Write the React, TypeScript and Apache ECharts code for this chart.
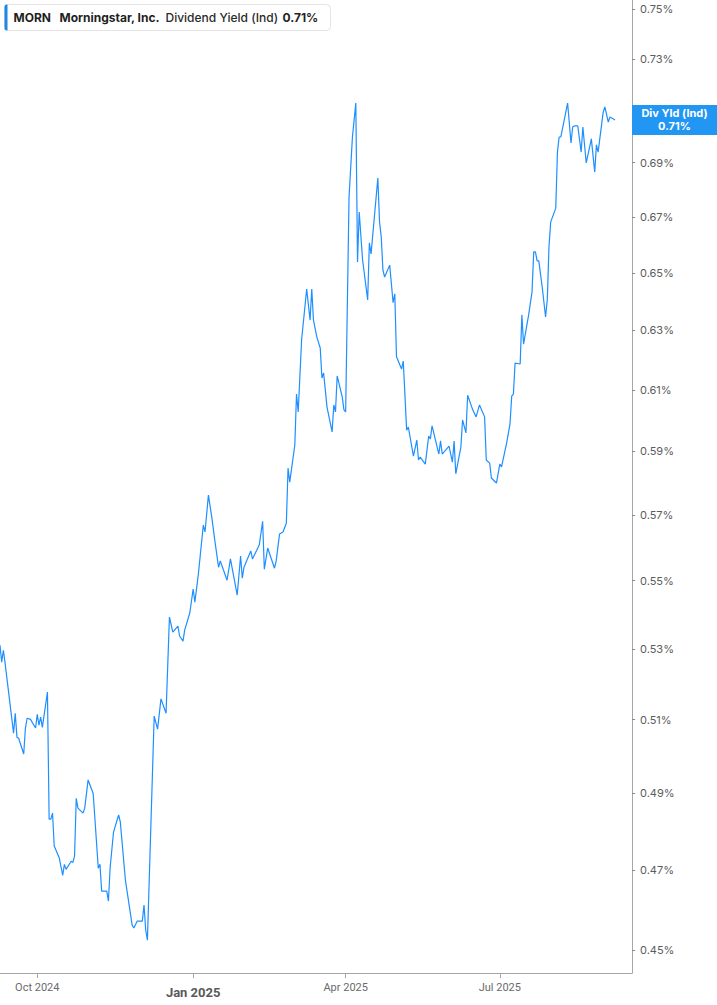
import React, { useEffect, useRef } from 'react';
import * as echarts from 'echarts';

// MORN dividend yield (%), daily readings
const dates = [
  '2024-09-09', '2024-09-10', '2024-09-11', '2024-09-12', '2024-09-17', '2024-09-18', '2024-09-19', '2024-09-20',
  '2024-09-23', '2024-09-24', '2024-09-25', '2024-09-27', '2024-09-30', '2024-10-01', '2024-10-02', '2024-10-03',
  '2024-10-04', '2024-10-07', '2024-10-08', '2024-10-09', '2024-10-10', '2024-10-11', '2024-10-14', '2024-10-16',
  '2024-10-17', '2024-10-18', '2024-10-21', '2024-10-22', '2024-10-23', '2024-10-24', '2024-10-25', '2024-10-28',
  '2024-10-29', '2024-10-31', '2024-11-03', '2024-11-06', '2024-11-07', '2024-11-08', '2024-11-11', '2024-11-12',
  '2024-11-13', '2024-11-15', '2024-11-18', '2024-11-19', '2024-11-22', '2024-11-26', '2024-11-27', '2024-11-29',
  '2024-12-02', '2024-12-03', '2024-12-04', '2024-12-05', '2024-12-09', '2024-12-11', '2024-12-13', '2024-12-16',
  '2024-12-18', '2024-12-20', '2024-12-23', '2024-12-24', '2024-12-26', '2024-12-27', '2024-12-30', '2025-01-01',
  '2025-01-02', '2025-01-04', '2025-01-07', '2025-01-08', '2025-01-10', '2025-01-12', '2025-01-14', '2025-01-16',
  '2025-01-17', '2025-01-21', '2025-01-23', '2025-01-27', '2025-01-29', '2025-01-30', '2025-01-31', '2025-02-04',
  '2025-02-05', '2025-02-09', '2025-02-11', '2025-02-12', '2025-02-14', '2025-02-18', '2025-02-19', '2025-02-21',
  '2025-02-23', '2025-02-25', '2025-02-26', '2025-02-27', '2025-03-02', '2025-03-03', '2025-03-04', '2025-03-06',
  '2025-03-09', '2025-03-11', '2025-03-12', '2025-03-13', '2025-03-15', '2025-03-17', '2025-03-18', '2025-03-19',
  '2025-03-21', '2025-03-24', '2025-03-25', '2025-03-26', '2025-03-27', '2025-03-30', '2025-03-31', '2025-04-01',
  '2025-04-03', '2025-04-05', '2025-04-07', '2025-04-08', '2025-04-09', '2025-04-11', '2025-04-14', '2025-04-15',
  '2025-04-16', '2025-04-20', '2025-04-21', '2025-04-22', '2025-04-23', '2025-04-24', '2025-04-27', '2025-04-29',
  '2025-04-30', '2025-05-01', '2025-05-04', '2025-05-05', '2025-05-07', '2025-05-08', '2025-05-11', '2025-05-13',
  '2025-05-14', '2025-05-15', '2025-05-18', '2025-05-20', '2025-05-21', '2025-05-22', '2025-05-26', '2025-05-27',
  '2025-05-28', '2025-06-01', '2025-06-03', '2025-06-04', '2025-06-05', '2025-06-08', '2025-06-09', '2025-06-11',
  '2025-06-12', '2025-06-15', '2025-06-17', '2025-06-19', '2025-06-22', '2025-06-23', '2025-06-25', '2025-06-26',
  '2025-06-29', '2025-07-01', '2025-07-02', '2025-07-05', '2025-07-07', '2025-07-08', '2025-07-09', '2025-07-10',
  '2025-07-13', '2025-07-14', '2025-07-15', '2025-07-18', '2025-07-20', '2025-07-21', '2025-07-22', '2025-07-23',
  '2025-07-24', '2025-07-26', '2025-07-28', '2025-07-29', '2025-07-30', '2025-07-31', '2025-08-03', '2025-08-04',
  '2025-08-05', '2025-08-06', '2025-08-10', '2025-08-12', '2025-08-13', '2025-08-14', '2025-08-16', '2025-08-18',
  '2025-08-19', '2025-08-21', '2025-08-24', '2025-08-26', '2025-08-27', '2025-08-28', '2025-08-31', '2025-09-01',
  '2025-09-03', '2025-09-04', '2025-09-07',
];

const yields = [
  0.5310, 0.5262, 0.5296, 0.5259, 0.5063, 0.5118, 0.5052, 0.5049,
  0.5006, 0.5077, 0.5104, 0.5101, 0.5077, 0.5115, 0.5085, 0.5107,
  0.5079, 0.5177, 0.4832, 0.4832, 0.4848, 0.4762, 0.4731, 0.4687,
  0.4715, 0.4702, 0.4723, 0.4720, 0.4736, 0.4887, 0.4861, 0.4848,
  0.4861, 0.4936, 0.4900, 0.4705, 0.4715, 0.4647, 0.4647, 0.4622,
  0.4707, 0.4798, 0.4843, 0.4825, 0.4675, 0.4562, 0.4555, 0.4572,
  0.4572, 0.4612, 0.4550, 0.4525, 0.5110, 0.5074, 0.5158, 0.5118,
  0.5392, 0.5348, 0.5366, 0.5337, 0.5322, 0.5354, 0.5404, 0.5475,
  0.5436, 0.5516, 0.5668, 0.5647, 0.5761, 0.5692, 0.5613, 0.5540,
  0.5559, 0.5501, 0.5565, 0.5457, 0.5574, 0.5507, 0.5540, 0.5589,
  0.5565, 0.5607, 0.5680, 0.5534, 0.5598, 0.5537, 0.5559, 0.5641,
  0.5647, 0.5674, 0.5846, 0.5802, 0.5920, 0.6086, 0.6027, 0.6267,
  0.6443, 0.6335, 0.6443, 0.6335, 0.6277, 0.6240, 0.6139, 0.6156,
  0.6043, 0.5962, 0.6050, 0.6027, 0.6146, 0.6076, 0.6034, 0.6027,
  0.6773, 0.6997, 0.7127, 0.6538, 0.6718, 0.6545, 0.6405, 0.6606,
  0.6567, 0.6843, 0.6681, 0.6628, 0.6509, 0.6485, 0.6527, 0.6395,
  0.6426, 0.6210, 0.6169, 0.6196, 0.5968, 0.5978, 0.5884, 0.5936,
  0.5872, 0.5881, 0.5859, 0.5949, 0.5939, 0.5982, 0.5891, 0.5933,
  0.5891, 0.5916, 0.5865, 0.5933, 0.5828, 0.5913, 0.6001, 0.5959,
  0.6082, 0.6034, 0.6011, 0.6050, 0.6011, 0.5872, 0.5862, 0.5815,
  0.5799, 0.5859, 0.5850, 0.5926, 0.5988, 0.6079, 0.6086, 0.6189,
  0.6186, 0.6353, 0.6253, 0.6353, 0.6433, 0.6574, 0.6574, 0.6542,
  0.6542, 0.6450, 0.6346, 0.6405, 0.6592, 0.6681, 0.6732, 0.6940,
  0.6997, 0.6997, 0.7127, 0.6974, 0.7035, 0.7039, 0.7039, 0.6940,
  0.7035, 0.6899, 0.6990, 0.6865, 0.6967, 0.6940, 0.7092, 0.7112,
  0.7054, 0.7073, 0.7062,
];

const yTicks = [0.45, 0.47, 0.49, 0.51, 0.53, 0.55, 0.57, 0.59, 0.61, 0.63, 0.65, 0.67, 0.69, 0.71, 0.73, 0.75];
const xTicks = ['2024-10-01', '2025-01-01', '2025-04-01', '2025-07-01'];
const monthNames = ['Jan', 'Feb', 'Mar', 'Apr', 'May', 'Jun', 'Jul', 'Aug', 'Sep', 'Oct', 'Nov', 'Dec'];

const ticker = 'MORN';
const company = 'Morningstar, Inc.';
const metric = 'Dividend Yield (Ind)';
const shortMetric = 'Div Yld (Ind)';

const BLUE = '#1e8fff';
const toTs = (s: string) => new Date(s + 'T00:00:00').getTime();

const App: React.FC = () => {
  const chartRef = useRef<HTMLDivElement>(null);

  useEffect(() => {
    if (!chartRef.current) return;
    const chart = echarts.init(chartRef.current, null, { renderer: 'svg' });

    const last = yields[yields.length - 1];
    const lastText = last.toFixed(2) + '%';

    const option = {
      animation: false,
      grid: { left: 0, right: 85, top: 0, bottom: 32 },
      // timestamps on a plain value axis so the quarter ticks can be placed exactly
      xAxis: {
        type: 'value',
        min: toTs('2024-09-09'),
        max: toTs('2025-09-17'),
        splitLine: { show: false },
        axisLine: { show: true, onZero: false, lineStyle: { color: '#a6a6a6', width: 1 } },
        axisTick: { show: true, length: 5, lineStyle: { color: '#a6a6a6' }, customValues: xTicks.map(toTs) },
        axisLabel: {
          customValues: xTicks.map(toTs),
          margin: 9,
          color: '#6b6b6b',
          fontSize: 11,
          fontFamily: 'Roboto',
          formatter: (val: number) => {
            const d = new Date(val);
            const name = monthNames[d.getMonth()] + ' ' + d.getFullYear();
            return d.getMonth() === 0 ? '{b|' + name + '}' : name;
          },
          rich: {
            b: { fontSize: 13, fontWeight: 'bold', color: '#5a5a5a', fontFamily: 'Roboto', padding: [4, 0, 0, 0] },
          },
        },
      },
      // log-scaled yield: data plotted as ln(value)
      yAxis: {
        type: 'value',
        position: 'right',
        min: Math.log(0.4445),
        max: Math.log(0.7537),
        splitLine: { show: false },
        axisLine: { show: true, onZero: false, lineStyle: { color: '#a6a6a6', width: 1 } },
        axisTick: {
          show: true,
          length: 3,
          lineStyle: { color: '#888' },
          customValues: yTicks.map((v) => Math.log(v)),
        },
        axisLabel: {
          customValues: yTicks.map((v) => Math.log(v)),
          margin: 8,
          color: '#5c5c5c',
          fontSize: 11,
          fontFamily: 'Inter',
          formatter: (val: number) => Math.exp(val).toFixed(2) + '%',
        },
      },
      series: [
        {
          type: 'line',
          data: dates.map((d, i) => [toTs(d), Math.log(yields[i])]),
          showSymbol: false,
          lineStyle: { width: 1.2, color: BLUE },
          itemStyle: { color: BLUE },
        },
      ],
      graphic: [
        {
          type: 'group',
          id: 'legendBox',
          left: 4,
          top: 4,
          children: [
            {
              type: 'rect',
              id: 'legendBg',
              shape: { x: 0, y: 0, width: 326, height: 26, r: 4 },
              style: { fill: '#fff', stroke: '#e4e4e4', lineWidth: 1 },
            },
            {
              type: 'rect',
              id: 'legendBar',
              shape: { x: 0, y: 0, width: 3, height: 26, r: [2, 0, 0, 2] },
              style: { fill: '#1e88e5' },
            },
            {
              type: 'text',
              id: 'legendTicker',
              x: 9,
              y: 13,
              style: { text: ticker, fill: '#1f1f1f', font: 'bold 12px Inter', verticalAlign: 'middle' },
            },
            {
              type: 'text',
              id: 'legendCompany',
              x: 55,
              y: 13,
              style: { text: company, fill: '#1f1f1f', font: 'bold 12px Inter', verticalAlign: 'middle' },
            },
            {
              type: 'text',
              id: 'legendMetric',
              x: 161,
              y: 13,
              style: { text: metric, fill: '#2a2a2a', font: '500 12px Inter', verticalAlign: 'middle' },
            },
            {
              type: 'text',
              id: 'legendValue',
              x: 278,
              y: 13,
              style: { text: lastText, fill: '#1f1f1f', font: 'bold 12px Inter', verticalAlign: 'middle' },
            },
          ],
        },
      ],
    };

    chart.setOption(option);

    // last-value tag on the right axis, positioned through the chart's own scale
    const pt = chart.convertToPixel({ gridIndex: 0 }, [toTs(dates[dates.length - 1]), Math.log(last)]) as number[];
    const axisX = chart.getWidth() - 85;
    const tagW = chart.getWidth() - axisX;
    chart.setOption({
      graphic: [
        {
          type: 'group',
          id: 'lastTag',
          x: axisX,
          y: pt[1] - 15,
          z: 100,
          children: [
            {
              type: 'rect',
              id: 'lastTagBg',
              z: 100,
              shape: { x: 0, y: 0, width: tagW, height: 30 },
              style: { fill: '#2196f3' },
            },
            {
              type: 'text',
              id: 'lastTagText',
              z: 101,
              x: tagW / 2,
              y: 15,
              style: {
                text: shortMetric + '\n' + lastText,
                fill: '#fff',
                font: 'bold 11px Inter',
                lineHeight: 13,
                align: 'center',
                verticalAlign: 'middle',
              },
            },
          ],
        },
      ],
    });

    const handleResize = () => chart.resize();
    window.addEventListener('resize', handleResize);
    return () => {
      window.removeEventListener('resize', handleResize);
      chart.dispose();
    };
  }, []);

  return (
    <div
      ref={chartRef}
      style={{ position: 'fixed', left: 0, top: 0, width: 717, height: 1005, background: '#fff' }}
    />
  );
};

export default App;
